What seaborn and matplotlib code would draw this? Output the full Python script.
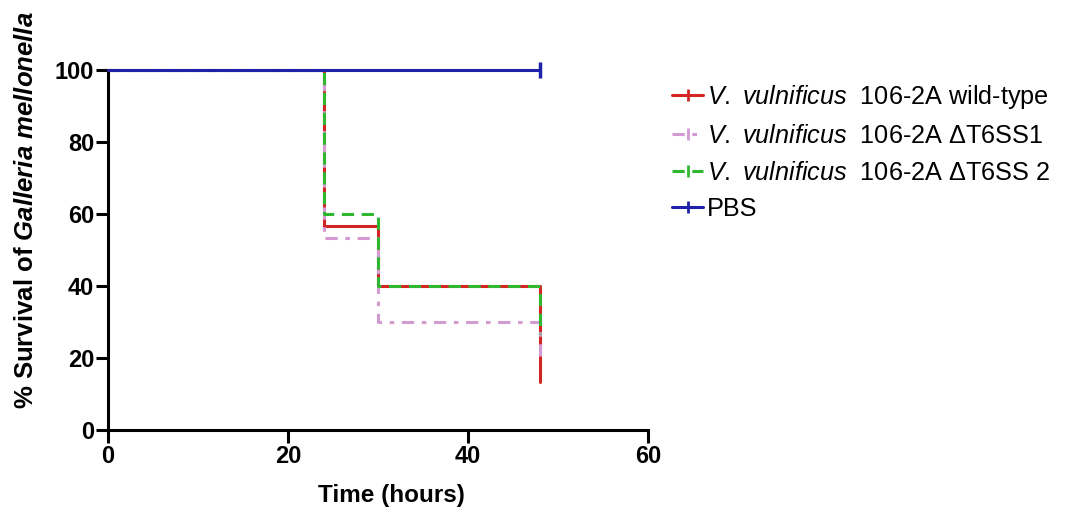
import matplotlib
matplotlib.use("Agg")
import matplotlib.pyplot as plt
from matplotlib.lines import Line2D
import pandas as pd
import seaborn as sns

sns.set_theme(style="ticks")
plt.rcParams["font.family"] = ["Liberation Sans", "DejaVu Sans"]
plt.rcParams["text.color"] = "black"
plt.rcParams["axes.labelcolor"] = "black"
plt.rcParams["mathtext.fontset"] = "custom"
plt.rcParams["mathtext.rm"] = "Liberation Sans"
plt.rcParams["mathtext.it"] = "Liberation Sans:italic"
plt.rcParams["mathtext.bf"] = "Liberation Sans:bold"
plt.rcParams["mathtext.bfit"] = "Liberation Sans:italic:bold"

# Kaplan-Meier survival curves (time in hours, % survival)
times = [0, 24, 30, 48, 48]
wild_type = [100, 56.7, 40, 40, 13.3]
dt6ss1 = [100, 53.3, 30, 30, 20]
dt6ss2 = [100, 60, 40, 40, 26.7]
pbs_times = [0, 48]
pbs = [100, 100]

labels = [
    r"$\it{V.\ vulnificus}$  106-2A wild-type",
    r"$\it{V.\ vulnificus}$  106-2A ΔT6SS1",
    r"$\it{V.\ vulnificus}$  106-2A ΔT6SS 2",
    "PBS",
]
colors = ["#d42525", "#d49ad4", "#2fb82f", "#1e22a8"]
dash_styles = [(None, None), (4, 2.5, 1.5, 2.5), (4, 2.5), (None, None)]

series = [
    (times, wild_type),
    (times, dt6ss1),
    (times, dt6ss2),
    (pbs_times, pbs),
]

fig = plt.figure(figsize=(10.69, 5.15), dpi=100)
ax = fig.add_axes([0.101, 0.165, 0.505, 0.699])

for (t, s), lab, col, dsh in zip(series, labels, colors, dash_styles):
    df = pd.DataFrame({"time": t, "survival": s})
    sns.lineplot(data=df, x="time", y="survival", estimator=None, sort=False,
                 drawstyle="steps-post", color=col, lw=2.2, ax=ax,
                 label=lab, legend=False, zorder=3)
    l = ax.lines[-1]
    l.set_clip_on(False)
    if dsh[0] is not None:
        l.set_dashes(dsh)

# censoring tick at the end of the PBS curve
cens = pd.DataFrame({"time": [pbs_times[-1]], "survival": [pbs[-1]]})
sns.scatterplot(data=cens, x="time", y="survival", marker="|", s=120,
                linewidth=2.5, color=colors[3], ax=ax, zorder=4, clip_on=False,
                legend=False)

ax.set_xlim(0, 60)
ax.set_ylim(0, 100)
ax.set_xticks([0, 20, 40, 60])
ax.set_yticks([0, 20, 40, 60, 80, 100])
sns.despine(ax=ax)
for sp in ["left", "bottom"]:
    ax.spines[sp].set_linewidth(2.2)
    ax.spines[sp].set_color("black")
ax.tick_params(axis="both", width=2.2, length=9, color="black",
               labelsize=17, labelcolor="black")
ax.tick_params(axis="y", pad=1)
ax.tick_params(axis="x", pad=2)
for lab in ax.get_xticklabels() + ax.get_yticklabels():
    lab.set_fontweight("bold")

ax.set_xlabel("Time (hours)", fontsize=17.5, fontweight="bold")
ax.set_ylabel(r"% Survival of $\mathbfit{Galleria\ mellonella}$", fontsize=18.5,
              fontweight="bold")
ax.xaxis.set_label_coords(0.526, -0.15)
ax.yaxis.set_label_coords(-0.13, 0.61)

handles = []
for c, d in zip(colors, dash_styles):
    h = Line2D([0], [0], color=c, lw=2.2, marker="|", markersize=9,
               markeredgewidth=2)
    if d[0] is not None:
        h.set_dashes(d)
    handles.append(h)

fig.legend(handles, labels, loc="upper left", bbox_to_anchor=(0.619, 0.858),
           frameon=False, fontsize=18.2, handlelength=1.25, handletextpad=0.15,
           labelspacing=0.5, borderaxespad=0)

fig.savefig("out.png", dpi=100)
